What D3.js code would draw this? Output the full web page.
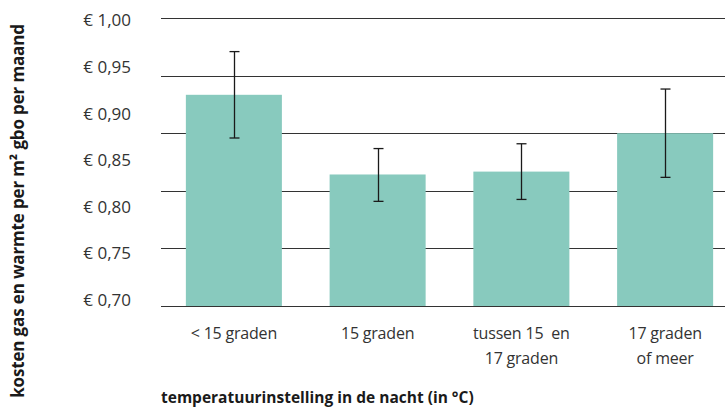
<!DOCTYPE html>
<html>
<head>
<meta charset="utf-8">
<script src="https://cdn.jsdelivr.net/npm/d3@7"></script>
<style>
  body { margin: 0; background: #fff; }
  svg { display: block; font-family: "Open Sans", sans-serif; }
</style>
</head>
<body>
<svg width="725" height="407"></svg>
<script>
// categories (two-line labels) and values
var categories = ["< 15 graden", "15 graden", "tussen 15  en|17 graden", "17 graden|of meer"]
var costs = [0.920, 0.837, 0.840, 0.880]
var lower = [0.875, 0.809, 0.811, 0.834]
var upper = [0.965, 0.864, 0.869, 0.926]
var tickLabels = [0.70, 0.75, 0.80, 0.85, 0.90, 0.95, 1.00]

var svg = d3.select("svg")

var x = d3.scaleBand()
	.domain(categories)
	.range([162, 737])
	.paddingInner(0.332)
	.paddingOuter(0.166)

// scale for bars and grid
var y = d3.scaleLinear().domain([0.70, 1.00]).range([306, 18])
// the printed labels sit slightly off the grid in the original
var yLab = d3.scaleLinear().domain([0.70, 1.00]).range([300, 20.5])

// grid lines: 5 equal steps over the domain
var grid = d3.range(6).map(function(i) { return 0.70 + i * 0.06 })
svg.append("g").selectAll("line")
	.data(grid)
	.join("line")
	.attr("x1", 161).attr("x2", 725)
	.attr("y1", function(d) { return Math.round(y(d)) + 0.5 })
	.attr("y2", function(d) { return Math.round(y(d)) + 0.5 })
	.attr("stroke", "#333")
	.attr("stroke-width", 1.2)

// bars
svg.append("g").selectAll("rect")
	.data(costs)
	.join("rect")
	.attr("x", function(d, i) { return x(categories[i]) })
	.attr("width", x.bandwidth())
	.attr("y", function(d) { return y(d) })
	.attr("height", function(d) { return y(0.70) - y(d) })
	.attr("fill", "#88cabe")

// baseline
svg.append("line")
	.attr("x1", 161).attr("x2", 725)
	.attr("y1", Math.round(y(0.70)) + 0.5).attr("y2", Math.round(y(0.70)) + 0.5)
	.attr("stroke", "#333").attr("stroke-width", 1.2)

// error bars
var eb = svg.append("g").attr("stroke", "#1a1a1a").attr("stroke-width", 1.3)
categories.forEach(function(c, i) {
	var cx = Math.round(x(c) + x.bandwidth() / 2) + 0.5
	eb.append("line").attr("x1", cx).attr("x2", cx).attr("y1", y(upper[i])).attr("y2", y(lower[i]))
	eb.append("line").attr("x1", cx - 5).attr("x2", cx + 5).attr("y1", y(upper[i])).attr("y2", y(upper[i]))
	eb.append("line").attr("x1", cx - 5).attr("x2", cx + 5).attr("y1", y(lower[i])).attr("y2", y(lower[i]))
})

// y labels
var yAxis = d3.axisLeft(yLab)
	.tickValues(tickLabels)
	.tickSize(0)
	.tickPadding(0)
	.tickFormat(function(d) { return "€ " + d.toFixed(2).replace(".", ",") })
svg.append("g")
	.attr("transform", "translate(131,0)")
	.call(yAxis)
	.call(function(g) { g.select(".domain").remove() })
	.selectAll("text")
	.attr("font-family", "Open Sans, sans-serif")
	.attr("font-size", 17)
	.attr("fill", "#333")

// x labels
var xl = svg.append("g").selectAll("text")
	.data(categories)
	.join("text")
	.attr("x", function(d) { return x(d) + x.bandwidth() / 2 })
	.attr("y", 339)
	.attr("text-anchor", "middle")
	.attr("font-size", 16)
	.attr("letter-spacing", -0.2)
	.attr("fill", "#333")
xl.each(function(d) {
	var t = d3.select(this)
	d.split("|").forEach(function(line, j) {
		t.append("tspan")
			.attr("x", x(d) + x.bandwidth() / 2)
			.attr("dy", j == 0 ? 0 : 25)
			.style("white-space", "pre")
			.text(line)
	})
})

// axis titles
svg.append("text")
	.attr("x", 161).attr("y", 403)
	.attr("font-size", 15.5)
	.attr("font-weight", "bold")
	.attr("fill", "#1a1a1a")
	.text("temperatuurinstelling in de nacht (in °C)")

svg.append("text")
	.attr("transform", "translate(24,211) rotate(-90)")
	.attr("text-anchor", "middle")
	.attr("font-size", 17)
	.attr("letter-spacing", -0.15)
	.attr("font-weight", "bold")
	.attr("fill", "#1a1a1a")
	.text("kosten gas en warmte per m² gbo per maand")
</script>
</body>
</html>
